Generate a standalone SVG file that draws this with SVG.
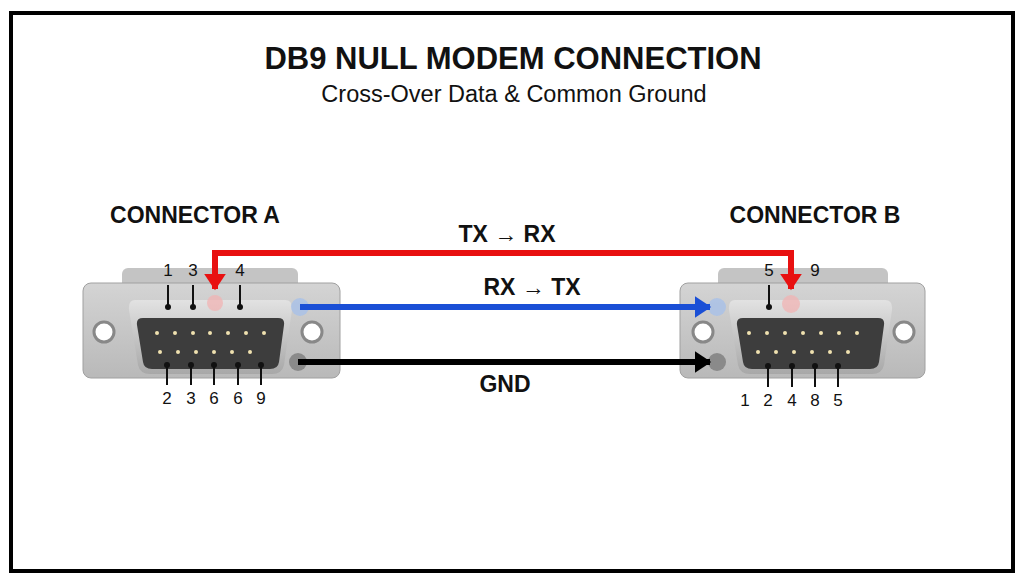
<svg xmlns="http://www.w3.org/2000/svg" width="1024" height="585" viewBox="0 0 1024 585">
<defs>
<linearGradient id="plate" x1="0" y1="0" x2="0" y2="1"><stop offset="0" stop-color="#d4d4d4"/><stop offset="1" stop-color="#b9b9b9"/></linearGradient>
<linearGradient id="shell" x1="0" y1="0" x2="0" y2="1"><stop offset="0" stop-color="#e2e2e2"/><stop offset="1" stop-color="#a8a8a8"/></linearGradient>
<marker id="arR" markerWidth="4" markerHeight="4" refX="2.5" refY="2" orient="auto-start-reverse" markerUnits="strokeWidth"><path d="M0,0.2 L2.7,2 L0,3.8 z" fill="#e81010"/></marker>
<marker id="arB" markerWidth="4" markerHeight="4" refX="2.5" refY="2" orient="auto" markerUnits="strokeWidth"><path d="M0,0.2 L2.7,2 L0,3.8 z" fill="#1a4fd6"/></marker>
<marker id="arK" markerWidth="4" markerHeight="4" refX="2.5" refY="2" orient="auto" markerUnits="strokeWidth"><path d="M0,0.2 L2.7,2 L0,3.8 z" fill="#000"/></marker>
</defs>
<style>
text{font-family:"Liberation Sans",Arial,sans-serif;fill:#111}
.b{font-weight:bold}
.n{font-size:17px;text-anchor:middle}
.pin{fill:#f0e2b0}
.lead{stroke:#111;stroke-width:2}
.dot{fill:#111}
.hole{fill:#fff;stroke:#888;stroke-width:3}
.lbl{font-weight:bold;font-size:23px;text-anchor:middle}
</style>
<rect x="0" y="0" width="1024" height="585" fill="#fff"/>
<rect x="11" y="13" width="1002" height="558" fill="none" stroke="#000" stroke-width="4"/>
<text x="513" y="69" class="b" font-size="31" text-anchor="middle">DB9 NULL MODEM CONNECTION</text>
<text x="514" y="102" font-size="23.5" text-anchor="middle" fill="#222">Cross-Over Data &amp; Common Ground</text>
<text x="195" y="223" class="b" font-size="23" text-anchor="middle">CONNECTOR A</text>
<text x="815" y="223" class="b" font-size="23" text-anchor="middle">CONNECTOR B</text>

<g id="connectorA">
<rect x="122" y="268" width="176" height="22" rx="6" fill="#c4c4c4"/>
<rect x="83" y="283" width="257" height="95" rx="8" fill="url(#plate)" stroke="#a0a0a0"/>
<circle cx="104" cy="332" r="10" class="hole"/>
<circle cx="312" cy="332" r="10" class="hole"/>
<path d="M135,300 H285 Q293,300 292,310 L284,365 Q282,374 272,374 H150 Q140,374 138,365 L129,310 Q128,300 135,300 z" fill="url(#shell)"/>
<path d="M143,318 H278 Q285,318 284,325 L279,362 Q278,369 270,369 H152 Q144,369 143,362 L137,325 Q136,318 143,318 z" fill="#3d3d3d"/>
<g class="pin"><circle cx="157" cy="333" r="2"/><circle cx="175" cy="333" r="2"/><circle cx="193" cy="333" r="2"/><circle cx="210" cy="333" r="2"/><circle cx="228" cy="333" r="2"/><circle cx="246" cy="333" r="2"/><circle cx="264" cy="333" r="2"/>
<circle cx="160" cy="352" r="2"/><circle cx="178" cy="352" r="2"/><circle cx="196" cy="352" r="2"/><circle cx="214" cy="352" r="2"/><circle cx="232" cy="352" r="2"/><circle cx="250" cy="352" r="2"/></g>
<circle cx="215" cy="303" r="8" fill="#f2b0b0" opacity="0.7"/>
<circle cx="300" cy="307" r="9" fill="#a8c0e8" opacity="0.8"/>
<circle cx="298" cy="362" r="9" fill="#8a8a8a"/>
<text x="168" y="276" class="n">1</text><text x="193" y="276" class="n">3</text><text x="240" y="276" class="n">4</text>
<line x1="168" y1="285" x2="168" y2="307" class="lead"/><circle cx="168" cy="307" r="3" class="dot"/>
<line x1="193" y1="285" x2="193" y2="307" class="lead"/><circle cx="193" cy="307" r="3" class="dot"/>
<line x1="240" y1="285" x2="240" y2="307" class="lead"/><circle cx="240" cy="307" r="3" class="dot"/>
<g class="lead"><line x1="167" y1="365" x2="167" y2="385"/><line x1="191" y1="365" x2="191" y2="385"/><line x1="214" y1="365" x2="214" y2="385"/><line x1="238" y1="365" x2="238" y2="385"/><line x1="261" y1="365" x2="261" y2="385"/></g>
<g class="dot"><circle cx="167" cy="365" r="3"/><circle cx="191" cy="365" r="3"/><circle cx="214" cy="365" r="3"/><circle cx="238" cy="365" r="3"/><circle cx="261" cy="365" r="3"/></g>
<text x="167" y="404" class="n">2</text><text x="191" y="404" class="n">3</text><text x="214" y="404" class="n">6</text><text x="238" y="404" class="n">6</text><text x="261" y="404" class="n">9</text>
</g>

<g id="connectorB">
<rect x="718" y="268" width="170" height="22" rx="6" fill="#c4c4c4"/>
<rect x="680" y="283" width="245" height="95" rx="8" fill="url(#plate)" stroke="#a0a0a0"/>
<circle cx="703" cy="332" r="10" class="hole"/>
<circle cx="904" cy="332" r="10" class="hole"/>
<path d="M735,300 H885 Q893,300 892,310 L884,365 Q882,374 872,374 H750 Q740,374 738,365 L729,310 Q728,300 735,300 z" fill="url(#shell)"/>
<path d="M743,318 H878 Q885,318 884,325 L879,362 Q878,369 870,369 H752 Q744,369 743,362 L737,325 Q736,318 743,318 z" fill="#3d3d3d"/>
<g class="pin"><circle cx="749" cy="333" r="2"/><circle cx="767" cy="333" r="2"/><circle cx="785" cy="333" r="2"/><circle cx="803" cy="333" r="2"/><circle cx="821" cy="333" r="2"/><circle cx="839" cy="333" r="2"/><circle cx="857" cy="333" r="2"/>
<circle cx="758" cy="352" r="2"/><circle cx="776" cy="352" r="2"/><circle cx="794" cy="352" r="2"/><circle cx="812" cy="352" r="2"/><circle cx="830" cy="352" r="2"/><circle cx="848" cy="352" r="2"/></g>
<circle cx="791" cy="304" r="9" fill="#f2b0b0" opacity="0.7"/>
<circle cx="717" cy="307" r="9" fill="#a8c0e8" opacity="0.8"/>
<circle cx="717" cy="362" r="9" fill="#8a8a8a"/>
<text x="769" y="276" class="n">5</text><text x="815" y="276" class="n">9</text>
<line x1="769" y1="285" x2="769" y2="307" class="lead"/><circle cx="769" cy="307" r="3" class="dot"/>
<g class="lead"><line x1="768" y1="366" x2="768" y2="387"/><line x1="792" y1="366" x2="792" y2="387"/><line x1="815" y1="366" x2="815" y2="387"/><line x1="838" y1="366" x2="838" y2="387"/></g>
<g class="dot"><circle cx="768" cy="366" r="3"/><circle cx="792" cy="366" r="3"/><circle cx="815" cy="366" r="3"/><circle cx="838" cy="366" r="3"/></g>
<text x="745" y="406" class="n">1</text><text x="768" y="406" class="n">2</text><text x="792" y="406" class="n">4</text><text x="815" y="406" class="n">8</text><text x="838" y="406" class="n">5</text>
</g>

<g id="connectors" fill="none" stroke-width="6">
<path d="M215,289 V253 H791 V289" stroke="#e81010" marker-start="url(#arR)" marker-end="url(#arR)"/>
<line x1="300" y1="307" x2="710" y2="307" stroke="#1a4fd6" marker-end="url(#arB)"/>
<line x1="298" y1="362" x2="710" y2="362" stroke="#000" marker-end="url(#arK)"/>
</g>
<text x="507" y="242" class="lbl">TX → RX</text>
<text x="532" y="295" class="lbl">RX → TX</text>
<text x="505" y="392" class="lbl">GND</text>
</svg>
